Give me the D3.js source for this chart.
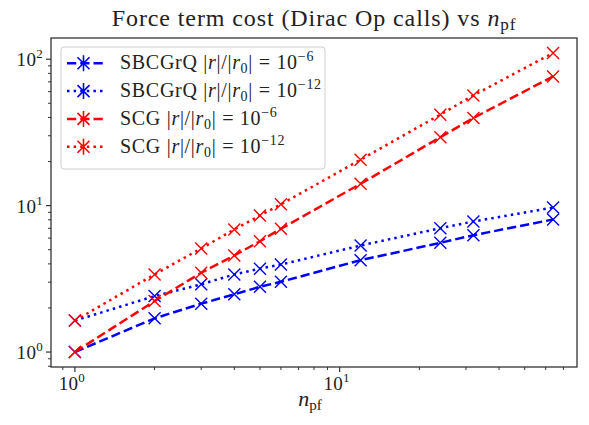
<!DOCTYPE html>
<html lang="en">
<head>
<meta charset="UTF-8">
<title>Force term cost</title>
<script src="https://cdn.jsdelivr.net/npm/d3@7"></script>
<style>
  body { margin: 0; background: #fff; }
  text { font-family: "Liberation Serif", "DejaVu Serif", serif; fill: #222; }
</style>
</head>
<body>
<script>
// number of pseudofermions
const npf = [1, 2, 3, 4, 5, 6, 12, 24, 32, 64];

// Dirac op calls
const sbcgrq6  = [1.00, 1.70, 2.14, 2.48, 2.79, 3.02, 4.24, 5.57, 6.28, 8.04];
const sbcgrq12 = [1.64, 2.41, 2.90, 3.39, 3.71, 3.96, 5.34, 7.01, 7.79, 9.70];
const scg6     = [1.00, 2.23, 3.48, 4.57, 5.71, 6.95, 14.1, 29.3, 39.7, 76.3];
const scg12    = [1.64, 3.39, 5.10, 6.87, 8.56, 10.2, 20.6, 41.8, 56.6, 110.3];

const seriesNames = ["SBCGrQ", "SBCGrQ", "SCG", "SCG"];
const seriesExp = ["−6", "−12", "−6", "−12"];
const seriesVals = [sbcgrq6, sbcgrq12, scg6, scg12];
const seriesColor = ["#0000ff", "#0000ff", "#ff0000", "#ff0000"];
const seriesDash = ["9.25,4", "2.5,4.1", "9.25,4", "2.5,4.1"];

const xTicks = [1, 10];
const yTicks = [1, 10, 100];

const W = 589, H = 425;
const m = {left: 51, right: 577, top: 38, bottom: 367};

// log-axis limits with 5% margin like matplotlib
function logExtent(vals) {
  const lo = Math.log10(d3.min(vals)), hi = Math.log10(d3.max(vals));
  const pad = (hi - lo) * 0.05;
  return [Math.pow(10, lo - pad), Math.pow(10, hi + pad)];
}

const x = d3.scaleLog().domain(logExtent(npf)).range([m.left, m.right]);
const y = d3.scaleLog().domain(logExtent(seriesVals.flat())).range([m.bottom, m.top]);

const svg = d3.select("body").append("svg")
    .attr("width", W).attr("height", H);

// title
const title = svg.append("text")
    .attr("x", (m.left + m.right) / 2).attr("y", 26)
    .attr("text-anchor", "middle")
    .attr("font-size", 24)
    .attr("letter-spacing", 0.9);
title.append("tspan").text("Force term cost (Dirac Op calls) vs ");
title.append("tspan").attr("font-style", "italic").text("n");
title.append("tspan").attr("font-size", 17).attr("dy", 4).text("pf");

// clip for plot area
svg.append("clipPath").attr("id", "clip")
  .append("rect")
    .attr("x", m.left).attr("y", m.top)
    .attr("width", m.right - m.left).attr("height", m.bottom - m.top);

const plot = svg.append("g").attr("clip-path", "url(#clip)");

const line = d3.line()
    .x((d, i) => x(npf[i]))
    .y(d => y(d));

seriesVals.forEach((vals, k) => {
  plot.append("path")
      .datum(vals)
      .attr("d", line)
      .attr("fill", "none")
      .attr("stroke", seriesColor[k])
      .attr("stroke-width", 2.5)
      .attr("stroke-dasharray", seriesDash[k]);
});

// x markers
const ms = 6;
seriesVals.forEach((vals, k) => {
  plot.append("g").selectAll("path")
    .data(vals)
    .join("path")
      .attr("d", (d, i) => {
        const cx = x(npf[i]), cy = y(d);
        return `M${cx - ms},${cy - ms}L${cx + ms},${cy + ms}M${cx - ms},${cy + ms}L${cx + ms},${cy - ms}`;
      })
      .attr("stroke", seriesColor[k])
      .attr("stroke-width", 1.4)
      .attr("fill", "none");
});

// ticks
const axisColor = "#333";
const tickGroup = svg.append("g");

function minorTicks(domain) {
  const out = [];
  for (let e = -2; e <= 3; e++) {
    for (let j = 1; j <= 9; j++) {
      const v = j * Math.pow(10, e);
      if (v >= domain[0] && v <= domain[1] && j !== 1) out.push(v);
    }
  }
  return out;
}

// x axis
minorTicks(x.domain()).forEach(v => {
  tickGroup.append("line")
    .attr("x1", x(v)).attr("x2", x(v))
    .attr("y1", m.bottom).attr("y2", m.bottom + 3)
    .attr("stroke", axisColor).attr("stroke-width", 1);
});
xTicks.forEach(v => {
  tickGroup.append("line")
    .attr("x1", x(v)).attr("x2", x(v))
    .attr("y1", m.bottom).attr("y2", m.bottom + 5)
    .attr("stroke", axisColor).attr("stroke-width", 1.2);
  const t = tickGroup.append("text")
    .attr("x", x(v) - 3).attr("y", m.bottom + 23)
    .attr("text-anchor", "middle")
    .attr("font-size", 19)
    .attr("letter-spacing", 0.3);
  t.append("tspan").text("10");
  t.append("tspan").attr("font-size", 13).attr("dy", -8).text(Math.round(Math.log10(v)));
});

// y axis
minorTicks(y.domain()).forEach(v => {
  tickGroup.append("line")
    .attr("x1", m.left).attr("x2", m.left - 3)
    .attr("y1", y(v)).attr("y2", y(v))
    .attr("stroke", axisColor).attr("stroke-width", 1);
});
yTicks.forEach(v => {
  tickGroup.append("line")
    .attr("x1", m.left).attr("x2", m.left - 5)
    .attr("y1", y(v)).attr("y2", y(v))
    .attr("stroke", axisColor).attr("stroke-width", 1.2);
  const t = tickGroup.append("text")
    .attr("x", m.left - 8).attr("y", y(v) + 7)
    .attr("text-anchor", "end")
    .attr("font-size", 19)
    .attr("letter-spacing", 0.3);
  t.append("tspan").text("10");
  t.append("tspan").attr("font-size", 13).attr("dy", -8).text(Math.round(Math.log10(v)));
});

// frame
svg.append("rect")
    .attr("x", m.left).attr("y", m.top)
    .attr("width", m.right - m.left).attr("height", m.bottom - m.top)
    .attr("fill", "none")
    .attr("stroke", axisColor).attr("stroke-width", 1.3);

// x label
const xl = svg.append("text")
    .attr("x", (m.left + m.right) / 2 - 4).attr("y", 406)
    .attr("text-anchor", "middle")
    .attr("font-size", 22);
xl.append("tspan").attr("font-style", "italic").text("n");
xl.append("tspan").attr("font-size", 15).attr("dy", 4).text("pf");

// legend
const lg = svg.append("g");
lg.append("rect")
    .attr("x", 61).attr("y", 47)
    .attr("width", 264).attr("height", 122)
    .attr("rx", 3)
    .attr("fill", "#fff").attr("fill-opacity", 0.8)
    .attr("stroke", "#d0d0d0").attr("stroke-width", 1);

seriesVals.forEach((vals, k) => {
  const cy = 63.3 + k * 27.8;
  lg.append("line")
    .attr("x1", 67).attr("x2", 105)
    .attr("y1", cy).attr("y2", cy)
    .attr("stroke", seriesColor[k]).attr("stroke-width", 2.5)
    .attr("stroke-dasharray", seriesDash[k]);
  const cx = 83.5;
  lg.append("path")
    .attr("d", `M${cx - ms},${cy - ms}L${cx + ms},${cy + ms}M${cx - ms},${cy + ms}L${cx + ms},${cy - ms}M${cx},${cy - 8}L${cx},${cy + 8}`)
    .attr("stroke", seriesColor[k]).attr("stroke-width", 1.6).attr("fill", "none");
  const t = lg.append("text")
    .attr("x", 120).attr("y", cy + 6)
    .attr("font-size", 20)
    .attr("letter-spacing", 0.7);
  t.append("tspan").text(seriesNames[k] + " |");
  t.append("tspan").attr("font-style", "italic").text("r");
  t.append("tspan").text("|/|");
  t.append("tspan").attr("font-style", "italic").text("r");
  t.append("tspan").attr("font-size", 14).attr("dy", 4).text("0");
  t.append("tspan").attr("dy", -4).text("|  =  10");
  t.append("tspan").attr("font-size", 14).attr("dy", -8).text(seriesExp[k]);
});
</script>
</body>
</html>
